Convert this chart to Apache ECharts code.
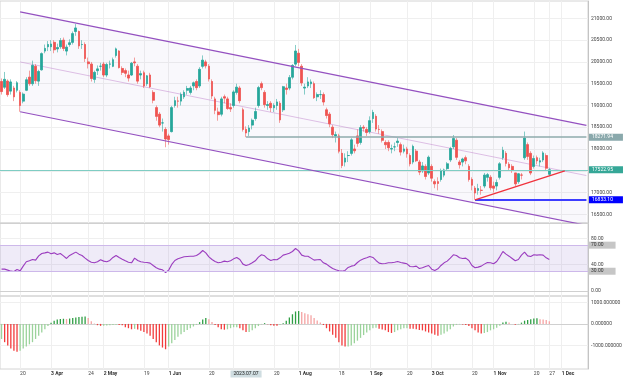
<!DOCTYPE html>
<html>
<head>
<meta charset="utf-8">
<script src="https://cdn.jsdelivr.net/npm/echarts@6/dist/echarts.min.js"></script>
<style>
  html, body { margin: 0; padding: 0; background: #fff; }
  #chart { width: 625px; height: 379px; }
</style>
</head>
<body>
<div id="chart"></div>
<script>
// trading days on the time axis, 2023 (the tail of December is empty space)
const tradingDays = [
  ['03', [10, 13, 14, 15, 16, 17, 20, 21, 22, 23, 24, 27, 28, 29, 30, 31]],
  ['04', [3, 4, 6, 11, 12, 13, 14, 17, 18, 19, 20, 21, 24, 25, 26, 27, 28]],
  ['05', [2, 3, 4, 5, 8, 9, 10, 11, 12, 15, 16, 17, 18, 19, 22, 23, 24, 25, 29, 30, 31]],
  ['06', [1, 2, 5, 6, 7, 8, 9, 12, 13, 14, 15, 16, 19, 20, 21, 23, 26, 27, 28, 29, 30]],
  ['07', [3, 4, 5, 6, 7, 10, 11, 12, 13, 14, 17, 18, 19, 20, 21, 24, 25, 26, 27, 28, 31]],
  ['08', [1, 2, 3, 4, 7, 8, 9, 10, 11, 14, 15, 16, 17, 18, 21, 22, 23, 24, 25, 28, 29, 30, 31]],
  ['09', [1, 4, 5, 6, 7, 11, 12, 13, 14, 15, 18, 19, 20, 21, 22, 25, 26, 27, 28, 29]],
  ['10', [3, 4, 5, 6, 9, 10, 11, 12, 13, 16, 17, 18, 19, 20, 24, 25, 26, 27, 30, 31]],
  ['11', [1, 2, 3, 6, 7, 8, 9, 10, 13, 14, 15, 16, 17, 20, 21, 22, 23, 24, 27, 28, 29, 30]],
  ['12', [1, 4, 5, 6, 7, 8, 11, 12, 13]]
];

// daily candles [open, close, low, high]
const candles = [
  // Mar
  [19550, 19320, 19250, 19620], [19420, 19600, 19380, 19770], [19560, 19250, 19200, 19600], [19330, 19540, 19250, 19600],
  [19400, 19200, 19100, 19450], [19350, 19520, 19300, 19560], [19300, 19000, 18856, 19350], [19100, 19260, 19050, 19300],
  [19350, 19590, 19330, 19650], [19650, 19500, 19450, 19800], [19500, 19920, 19450, 20030], [19900, 19570, 19500, 19950],
  [19560, 19780, 19450, 19820], [19820, 20190, 19800, 20220], [20250, 20310, 20200, 20400], [20350, 20400, 20250, 20480],
  // Apr
  [20350, 20410, 20250, 20500], [20450, 20280, 20200, 20500], [20300, 20330, 20220, 20420], [20350, 20490, 20300, 20550],
  [20500, 20310, 20250, 20560], [20250, 20340, 20150, 20400], [20400, 20440, 20350, 20520], [20450, 20650, 20400, 20700],
  [20700, 20780, 20600, 20870], [20700, 20370, 20300, 20720], [20400, 20400, 20300, 20500], [20400, 20080, 20000, 20450],
  [20000, 19960, 19850, 20100], [19950, 19620, 19550, 20000], [19600, 19760, 19520, 19800], [19800, 19840, 19700, 19920],
  [19900, 19900, 19800, 19980],
  // May
  [19950, 19700, 19650, 20000], [19700, 19940, 19650, 19980], [19950, 19950, 19850, 20030], [19900, 20050, 19880, 20100],
  [20150, 20300, 20100, 20330], [20250, 19870, 19850, 20270], [19850, 19760, 19700, 19900], [19800, 19740, 19650, 19850],
  [19700, 19630, 19550, 19800], [19700, 19970, 19680, 20000], [20000, 19980, 19900, 20100], [19900, 19560, 19500, 19950],
  [19700, 19730, 19600, 19800], [19750, 19450, 19400, 19800], [19500, 19680, 19450, 19700], [19700, 19430, 19400, 19750],
  [19300, 19120, 19050, 19350], [18950, 18750, 18650, 19000], [18800, 18550, 18500, 18850], [18600, 18600, 18400, 18700],
  [18450, 18230, 18040, 18500],
  // Jun
  [18300, 18220, 18100, 18350], [18400, 18950, 18380, 18990], [19000, 19110, 18950, 19200], [19100, 19100, 18950, 19200],
  [19100, 19250, 19000, 19300], [19200, 19300, 19150, 19350], [19350, 19390, 19250, 19450], [19300, 19400, 19250, 19450],
  [19450, 19520, 19350, 19550], [19550, 19410, 19350, 19600], [19450, 19830, 19400, 19880], [19900, 20040, 19850, 20150],
  [20000, 19910, 19850, 20050], [19900, 19610, 19550, 19950], [19550, 19220, 19150, 19600], [19150, 18890, 18800, 19200],
  [18850, 18790, 18650, 18950], [18800, 19150, 18750, 19200], [19200, 19170, 19050, 19250], [19150, 18930, 18900, 19200],
  [18950, 18920, 18850, 19050],
  // Jul
  [19000, 19310, 18950, 19350], [19300, 19420, 19250, 19500], [19400, 19110, 19050, 19450], [18900, 18450, 18400, 18950],
  [18450, 18370, 18272, 18520], [18400, 18480, 18300, 18550], [18550, 18660, 18450, 18700], [18700, 18860, 18650, 18950],
  [19000, 19410, 18950, 19450], [19500, 19410, 19350, 19550], [19300, 19020, 18950, 19350], [19000, 19020, 18900, 19100],
  [19050, 18950, 18850, 19100], [18950, 19000, 18850, 19050], [19000, 19080, 18900, 19150], [19050, 18670, 18600, 19100],
  [18900, 19430, 18850, 19450], [19400, 19370, 19250, 19500], [19400, 19640, 19350, 19700], [19650, 19920, 19600, 19950],
  [19950, 20250, 19900, 20390],
  // Aug
  [20200, 19990, 19900, 20300], [19900, 19520, 19450, 19950], [19400, 19420, 19250, 19500], [19450, 19540, 19400, 19650],
  [19500, 19540, 19400, 19600], [19500, 19180, 19150, 19550], [19200, 19250, 19100, 19300], [19250, 19250, 19150, 19350],
  [19250, 19080, 19000, 19300], [18900, 18770, 18700, 18950], [18800, 18580, 18500, 18850], [18500, 18330, 18250, 18550],
  [18300, 18330, 18150, 18400], [18300, 17950, 17900, 18350], [17900, 17620, 17560, 18000], [17700, 17790, 17600, 17900],
  [17850, 17850, 17700, 17950], [17900, 18210, 17850, 18250], [18000, 17960, 17900, 18100], [18300, 18130, 18050, 18450],
  [18150, 18490, 18100, 18550], [18500, 18480, 18400, 18550], [18450, 18380, 18300, 18500],
  // Sep
  [18400, 18650, 18350, 18750], [18700, 18840, 18600, 18900], [18750, 18460, 18400, 18800], [18450, 18450, 18350, 18550],
  [18400, 18200, 18150, 18450], [18150, 18100, 18000, 18200], [18150, 18030, 17950, 18200], [18000, 18010, 17900, 18100],
  [18050, 18050, 17950, 18150], [18150, 18180, 18050, 18250], [18100, 17930, 17850, 18150], [17950, 18000, 17900, 18100],
  [18000, 17890, 17800, 18050], [17850, 17660, 17600, 17900], [17700, 18060, 17650, 18100], [17950, 17730, 17700, 18000],
  [17700, 17470, 17400, 17750], [17500, 17610, 17450, 17700], [17600, 17370, 17300, 17650], [17450, 17810, 17400, 17850],
  // Oct
  [17600, 17330, 17250, 17650], [17250, 17200, 17100, 17300], [17250, 17210, 17050, 17350], [17300, 17490, 17250, 17550],
  [17400, 17520, 17350, 17550], [17550, 17660, 17500, 17700], [17750, 18010, 17700, 18050], [18050, 18240, 18000, 18320],
  [18200, 17810, 17750, 18250], [17700, 17640, 17550, 17750], [17700, 17770, 17600, 17800], [17800, 17730, 17650, 17850],
  [17600, 17300, 17250, 17650], [17300, 17170, 17050, 17350], [17100, 16990, 16833, 17150], [17050, 17090, 16950, 17200],
  [17050, 17050, 16950, 17150], [17150, 17400, 17100, 17450], [17350, 17410, 17250, 17450], [17350, 17110, 17050, 17400],
  // Nov
  [17150, 17100, 17000, 17250], [17150, 17230, 17050, 17300], [17350, 17660, 17300, 17700], [17800, 17970, 17750, 18050],
  [17900, 17670, 17600, 17950], [17650, 17570, 17500, 17700], [17600, 17510, 17450, 17650], [17450, 17200, 17150, 17450],
  [17250, 17430, 17200, 17450], [17400, 17400, 17300, 17450], [17800, 18250, 17750, 18400], [18100, 17830, 17750, 18150],
  [17900, 17450, 17400, 17950], [17600, 17780, 17550, 17850], [17800, 17730, 17650, 17850], [17700, 17730, 17600, 17800],
  [17750, 17910, 17700, 17950], [17850, 17560, 17500, 17900], [17420, 17523, 17380, 17560]
];

const rsi = [
  33.2, 33.2, 31.7, 30.1, 29.6, 32.7, 30.6, 37.8, 44.5, 46, 48, 47, 53.6, 57.2, 58.2, 59.3,
  56.7, 58.2, 55.7, 57.2, 53.6, 49.6, 54.2, 56.7, 59.3, 56.2, 54.2, 50.1, 46.5, 43.9, 42.9, 44.5, 47.5,
  45.5, 44.5, 46.5, 51.1, 54.2, 51.1, 48.5, 46, 43.9, 42.9, 50.1, 46.5, 44.5, 43.9, 43.4, 42.4, 38.8, 35.3, 33.2, 32.2, 28.1,
  31.7, 40.4, 46.5, 49, 50.6, 52.1, 52.6, 53.1, 53.1, 54.2, 57.2, 61.8, 58.2, 52.1, 48, 45, 42.9, 43.9, 45.5, 44.5, 46,
  49, 51.1, 48, 40.9, 38.8, 40.4, 42.9, 46, 51.6, 55.2, 53.6, 49, 46.5, 48, 47.5, 50.6, 54.7, 56.2, 57.7, 60.3, 64.9,
  61.3, 54.7, 53.1, 53.1, 50.1, 47, 47.5, 48, 42.9, 40.9, 37.3, 34.2, 32.2, 30.6, 30.1, 31.2, 35.8, 37.8, 38.8, 43.4, 47, 49, 50.6,
  52.6, 51.1, 46.5, 42.4, 41.4, 41.9, 42.9, 42.9, 43.9, 45, 43.4, 42.4, 41.4, 37.3, 36.8, 37.8, 34.2, 35.3, 37.3, 38.8,
  33.2, 31.2, 33.7, 38.8, 42.9, 45.5, 50.1, 55.2, 54.2, 50.6, 49.6, 50.1, 46.5, 38.8, 35.3, 36.3, 37.8, 40.9, 43.4, 42.9,
  41.4, 45, 52.1, 60.3, 56.2, 53.1, 49.6, 46, 48, 54.7, 59.3, 53.6, 52.6, 55.2, 54.7, 55.2, 54.7, 50.6, 48
];

const macdHist = [
  -700, -850, -1000, -1150, -1250, -1300, -1250, -1150, -1050, -950, -850, -700, -550, -400, -250, -100,
  50, 150, 200, 230, 240, 230, 250, 280, 300, 320, 330, 350, 280, 120, 20, -60, -90,
  -80, -70, -60, -50, -40, -50, -60, -150, -200, -250, -230, -260, -320, -380, -450, -550, -700, -850, -1000, -1100, -1180,
  -1050, -900, -750, -600, -480, -380, -280, -200, -120, -40, 80, 200, 280, 220, 90, -50, -150, -250, -270, -250, -200,
  -150, -150, -200, -300, -380, -380, -300, -200, -100, -20, 40, -10, -60, -80, -90, -40, 30, 150, 300, 450, 580,
  600, 560, 500, 450, 400, 280, 160, 60, -50, -200, -350, -500, -650, -850, -1000, -1050, -1050, -1000, -900, -780, -650, -520, -400,
  -300, -200, -180, -220, -260, -300, -380, -420, -380, -300, -250, -200, -200, -220, -230, -250, -280, -300, -350, -400,
  -450, -500, -550, -500, -450, -350, -250, -120, -40, -20, -30, -50, -100, -200, -300, -400, -450, -420, -380, -300,
  -250, -180, -80, 60, 100, 60, 0, -40, -20, 60, 150, 180, 220, 250, 260, 220, 200, 180, 120
];

const timeLabels = [
  ['2023-03-20', '20'], ['2023-04-03', '3 Apr'], ['2023-04-24', '24'], ['2023-05-02', '2 May'],
  ['2023-05-19', '19'], ['2023-06-01', '1 Jun'], ['2023-06-20', '20'], ['2023-07-20', '20'],
  ['2023-08-01', '1 Aug'], ['2023-08-18', '18'], ['2023-09-01', '1 Sep'], ['2023-09-20', '20'],
  ['2023-10-03', '3 Oct'], ['2023-10-20', '20'], ['2023-11-01', '1 Nov'], ['2023-11-20', '20'],
  ['2023-11-27', '27'], ['2023-12-01', '1 Dec']
];
const crosshairDate = '2023-07-07';

// drawings
const lastPrice = 17522.95;
const resistance = ['2023-07-07', 18271.94];
const support = ['2023-10-24', 16833.10];
const trendEnd = ['2023-12-04', 17500];
const channelDates = ['2023-03-20', '2023-12-13'];
const channelTop = [21150, 18542];
const channelMid = [20000, 17390];
const channelBottom = [18856, 16246];

const categories = [];
tradingDays.forEach(([m, days]) => days.forEach(d => categories.push('2023-' + m + '-' + String(d).padStart(2, '0'))));
const idx = d => categories.indexOf(d);
const labelMap = {};
timeLabels.forEach(([d, t]) => { labelMap[d] = t; });
const gridDates = timeLabels.map(t => t[0]).concat(['2023-07-03']);

const upColor = '#26a69a', downColor = '#ef5350';
const bodies = candles.map(c => [c[0], c[1], Math.min(c[0], c[1]), Math.max(c[0], c[1])]);
const macdBars = macdHist.map((v, i) => {
  const prev = i > 0 ? macdHist[i - 1] : v;
  const rising = v >= prev;
  let color;
  if (v >= 0) color = rising ? '#2f9e44' : '#f5a3a3';
  else color = rising ? '#9bd39b' : '#f23b3b';
  return { value: v, itemStyle: { color: color } };
});

// split line colours: only every n-th tick gets a visible line
const tickColors = (min, max, step, keep) => {
  const out = [];
  for (let v = min; v <= max + 1e-6; v += step) out.push(keep(Math.round(v)) ? '#efefef' : 'transparent');
  out.push('transparent');
  return out;
};

const font = 'Roboto, "Liberation Sans", sans-serif';
const txt = { fontSize: 5, color: '#444', fontFamily: font };

const xAxisFor = (gridIndex) => ({
  type: 'category', gridIndex: gridIndex, data: categories, boundaryGap: true,
  axisLine: { show: true, lineStyle: { color: '#d0d0d0' } },
  axisTick: { show: false },
  axisLabel: { show: false },
  splitLine: { show: true, alignWithLabel: true, interval: (i, v) => gridDates.indexOf(v) >= 0, lineStyle: { color: '#efefef' } }
});

const xBottom = xAxisFor(2);
xBottom.axisLabel = {
  show: true, interval: (i, v) => labelMap[v] !== undefined, align: 'left', margin: 2,
  formatter: v => (/[A-Za-z]/.test(labelMap[v]) ? '{m|' : '{d|') + labelMap[v] + '}',
  rich: {
    m: { fontSize: 5, color: '#333', fontWeight: 'bold', fontFamily: font },
    d: { fontSize: 5, color: '#444', fontFamily: font }
  }
};

const option = {
  animation: false,
  backgroundColor: '#fff',
  grid: [
    { left: 0, right: 37, top: 1, height: 222, show: true, borderColor: '#d4d4d4', borderWidth: 1 },
    { left: 0, right: 37, top: 223, height: 73, show: true, borderColor: '#d4d4d4', borderWidth: 1 },
    { left: 0, right: 37, top: 296, height: 73, show: true, borderColor: '#d4d4d4', borderWidth: 1 }
  ],
  xAxis: [
    xAxisFor(0), xAxisFor(1), xBottom,
    {
      type: 'category', gridIndex: 2, data: categories, position: 'bottom',
      axisLine: { show: false }, axisTick: { show: false }, splitLine: { show: false },
      axisLabel: {
        show: true, interval: (i, v) => v === crosshairDate, margin: 1.5, align: 'center',
        formatter: v => v.replace(/-/g, '.'),
        fontSize: 5, color: '#222', fontFamily: font, backgroundColor: '#cfdde1', padding: [1, 3]
      }
    }
  ],
  yAxis: [
    {
      type: 'value', gridIndex: 0, position: 'right', min: 16300, max: 21400, interval: 100,
      axisLine: { show: true, lineStyle: { color: '#c4c4c4' } }, axisTick: { show: false },
      axisLabel: Object.assign({ margin: 3, formatter: v => (v % 500 === 0 && Math.abs(v - lastPrice) > 100) ? v.toFixed(2) : '' }, txt),
      splitLine: { show: true, lineStyle: { color: tickColors(16300, 21400, 100, v => v % 500 === 0) } }
    },
    {
      type: 'value', gridIndex: 1, position: 'right', min: -8, max: 104, interval: 2,
      axisLine: { show: true, lineStyle: { color: '#c4c4c4' } }, axisTick: { show: false },
      axisLabel: {
        margin: 0,
        formatter: v => (v === 70 || v === 30) ? '{b|' + v.toFixed(2) + '}' : ((v >= 0 && v % 40 === 0) ? '{n|' + v.toFixed(2) + '}' : ''),
        rich: {
          n: { fontSize: 5, color: '#444', fontFamily: font, padding: [0, 0, 0, 3] },
          b: { fontSize: 5, color: '#333', fontFamily: font, backgroundColor: '#c6c6c6', padding: [1, 12, 1, 3] }
        }
      },
      splitLine: { show: true, lineStyle: { color: tickColors(-8, 104, 2, v => v >= 0 && v % 40 === 0) } }
    },
    {
      type: 'value', gridIndex: 2, position: 'right', min: -2100, max: 1300, interval: 100,
      axisLine: { show: true, lineStyle: { color: '#c4c4c4' } }, axisTick: { show: false },
      axisLabel: Object.assign({ margin: 3, formatter: v => (Math.abs(v) <= 1000 && v % 1000 === 0) ? v.toFixed(6) : '' }, txt),
      splitLine: { show: true, lineStyle: { color: tickColors(-2100, 1300, 100, v => Math.abs(v) <= 1000 && v % 1000 === 0) } }
    }
  ],
  series: [
    {
      // channel background
      type: 'custom', xAxisIndex: 0, yAxisIndex: 0, z: 1, clip: true, silent: true,
      data: [[idx(channelDates[0]), channelTop[0]]],
      renderItem: (params, api) => {
        const a = idx(channelDates[0]), b = idx(channelDates[1]);
        return {
          type: 'polygon',
          shape: { points: [api.coord([a, channelTop[0]]), api.coord([b, channelTop[1]]), api.coord([b, channelBottom[1]]), api.coord([a, channelBottom[0]])] },
          style: { fill: 'rgba(126, 87, 194, 0.045)' }
        };
      }
    },
    {
      type: 'candlestick', name: 'wicks', xAxisIndex: 0, yAxisIndex: 0, z: 3, barWidth: 2.2,
      data: candles,
      itemStyle: { color: 'transparent', color0: 'transparent', borderColor: 'rgba(38,166,154,0.55)', borderColor0: 'rgba(239,83,80,0.55)', borderWidth: 1 }
    },
    {
      type: 'candlestick', name: 'bodies', xAxisIndex: 0, yAxisIndex: 0, z: 4, barWidth: 2.2,
      data: bodies,
      itemStyle: { color: upColor, color0: downColor, borderColor: upColor, borderColor0: downColor, borderWidth: 0.5 },
      markLine: {
        silent: true, symbol: ['none', 'none'], animation: false,
        data: [
          {
            yAxis: lastPrice,
            lineStyle: { color: '#7fcdc3', width: 1, type: 'solid' },
            label: { show: true, position: 'end', distance: 1, formatter: lastPrice.toFixed(2), color: '#fff', backgroundColor: '#35a797', padding: [1, 10, 1, 3], fontSize: 5, fontFamily: font }
          },
          [
            {
              coord: [idx(resistance[0]), resistance[1]],
              lineStyle: { color: '#8eabad', width: 1.5, type: 'solid' },
              label: { show: true, position: 'end', distance: 2.5, formatter: resistance[1].toFixed(2), color: '#fff', backgroundColor: '#8aa9ac', padding: [1, 10, 1, 3], fontSize: 5, fontFamily: font }
            },
            { coord: [categories.length - 1, resistance[1]] }
          ],
          [
            {
              coord: [idx(support[0]), support[1]],
              lineStyle: { color: '#3d3dff', width: 2, type: 'solid' },
              label: { show: true, position: 'end', distance: 2.5, formatter: support[1].toFixed(2), color: '#fff', backgroundColor: '#0000ff', padding: [1, 10, 1, 3], fontSize: 5, fontFamily: font }
            },
            { coord: [categories.length - 1, support[1]] }
          ]
        ]
      }
    },
    {
      type: 'line', xAxisIndex: 0, yAxisIndex: 0, z: 5, showSymbol: false, silent: true,
      data: [[idx(channelDates[0]), channelTop[0]], [idx(channelDates[1]), channelTop[1]]],
      lineStyle: { color: '#9450c0', width: 1.2 }
    },
    {
      type: 'line', xAxisIndex: 0, yAxisIndex: 0, z: 2, showSymbol: false, silent: true,
      data: [[idx(channelDates[0]), channelMid[0]], [idx(channelDates[1]), channelMid[1]]],
      lineStyle: { color: 'rgba(186, 120, 200, 0.45)', width: 1 }
    },
    {
      type: 'line', xAxisIndex: 0, yAxisIndex: 0, z: 5, showSymbol: false, silent: true,
      data: [[idx(channelDates[0]), channelBottom[0]], [idx(channelDates[1]), channelBottom[1]]],
      lineStyle: { color: '#9450c0', width: 1.2 }
    },
    {
      type: 'line', xAxisIndex: 0, yAxisIndex: 0, z: 5, showSymbol: false, silent: true,
      data: [[idx(support[0]), support[1]], [idx(trendEnd[0]), trendEnd[1]]],
      lineStyle: { color: '#f0323c', width: 1.3 }
    },
    {
      type: 'line', xAxisIndex: 1, yAxisIndex: 1, z: 4, showSymbol: false, silent: true,
      data: rsi,
      lineStyle: { color: '#9b3dbf', width: 1.1 },
      markArea: {
        silent: true,
        itemStyle: { color: 'rgba(126, 87, 194, 0.12)' },
        data: [[{ yAxis: 30 }, { yAxis: 70 }]]
      },
      markLine: {
        silent: true, symbol: ['none', 'none'], label: { show: false },
        lineStyle: { color: '#cdb8ea', width: 1, type: 'solid' },
        data: [{ yAxis: 70 }, { yAxis: 30 }]
      }
    },
    {
      type: 'bar', xAxisIndex: 2, yAxisIndex: 2, z: 3, barWidth: 1.3, silent: true,
      data: macdBars
    }
  ]
};

const chart = echarts.init(document.getElementById('chart'));
chart.setOption(option);
</script>
</body>
</html>
